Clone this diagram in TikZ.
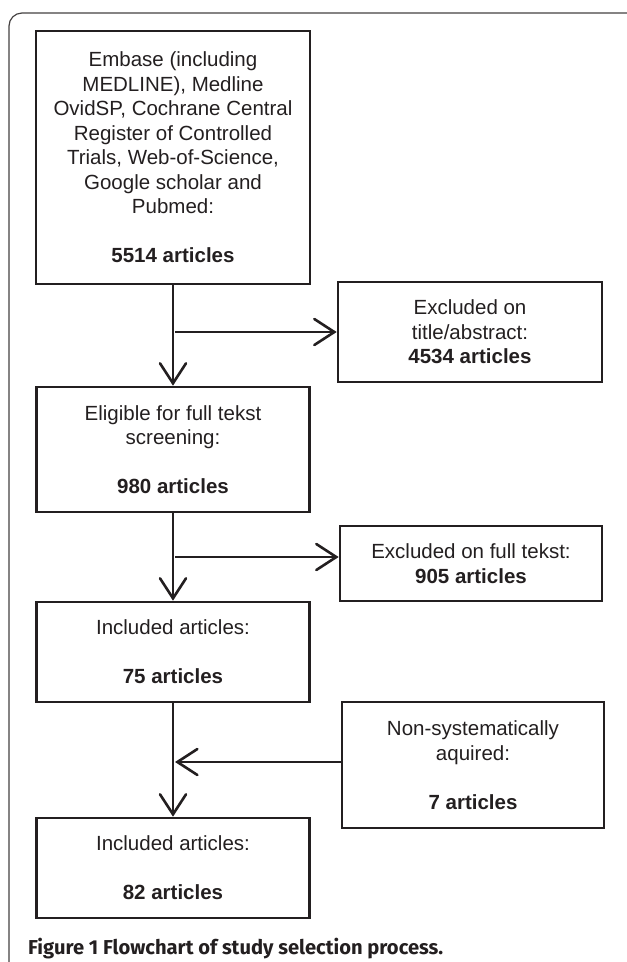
\documentclass[tikz,border=0pt]{standalone}
\usepackage{fontspec}
\setmainfont{Liberation Sans}
\newfontfamily\capfont{Fira Sans}
\usetikzlibrary{arrows.meta}
\definecolor{ink}{HTML}{231F20}
\begin{document}
\begin{tikzpicture}[x=1pt, y=-1pt,
  box/.style={draw=ink, line width=2.6pt, text=ink, align=center, inner sep=0pt,
    font=\fontsize{20.5}{24.5}\selectfont},
  arr/.style={draw=ink, line width=2.6pt,
    -{Straight Barb[length=20pt, width=26pt, line cap=round]}}]
  \useasboundingbox (0,0) rectangle (627,962);
  \clip (0,0) rectangle (627,962);
  \draw[draw=ink!85, line width=1.2pt, rounded corners=13pt] (9,13) rectangle (680,1010);
  \node[box, minimum width=274pt, minimum height=253pt] (search) at (173,157.5)
    {Embase (including\\ MEDLINE), Medline\\ OvidSP, Cochrane Central\\ Register of Controlled\\
     Trials, Web-of-Science,\\ Google scholar and\\ Pubmed:\\ ~\\ \textbf{5514 articles}};
  \node[box, minimum width=264pt, minimum height=100pt] (excl1) at (470,332)
    {Excluded on\\ title/abstract:\\ \textbf{4534 articles}};
  \node[box, minimum width=273pt, minimum height=125pt] (elig) at (173,449.5)
    {Eligible for full tekst\\ screening:\\ ~\\ \textbf{980 articles}};
  \node[box, minimum width=262pt, minimum height=75pt] (excl2) at (471,563.5)
    {Excluded on full tekst:\\ \textbf{905 articles}};
  \node[box, minimum width=273pt, minimum height=100pt] (incl1) at (173,652)
    {Included articles:\\ ~\\ \textbf{75 articles}};
  \node[box, minimum width=262pt, minimum height=126pt] (nonsys) at (473,765)
    {Non-systematically\\ aquired:\\ ~\\ \textbf{7 articles}};
  \node[box, minimum width=273pt, minimum height=100pt] (incl2) at (173,868)
    {Included articles:\\ ~\\ \textbf{82 articles}};
  \node[anchor=west, inner sep=0pt, text=ink] (caption) at (28,949)
    {\resizebox{415pt}{!}{\capfont\bfseries Figure 1 Flowchart of study selection process.}};
  \coordinate (j1) at (175,332);
  \coordinate (j2) at (175,557);
  \coordinate (j3) at (175,762);
  \draw[arr] (search) -- (elig);
  \draw[arr] (j1) -- (excl1);
  \draw[arr] (elig) -- (incl1);
  \draw[arr] (j2) -- (excl2.west |- j2);
  \draw[arr] (incl1) -- (incl2);
  \draw[arr] (nonsys.west |- j3) -- (j3);
\end{tikzpicture}
\end{document}
